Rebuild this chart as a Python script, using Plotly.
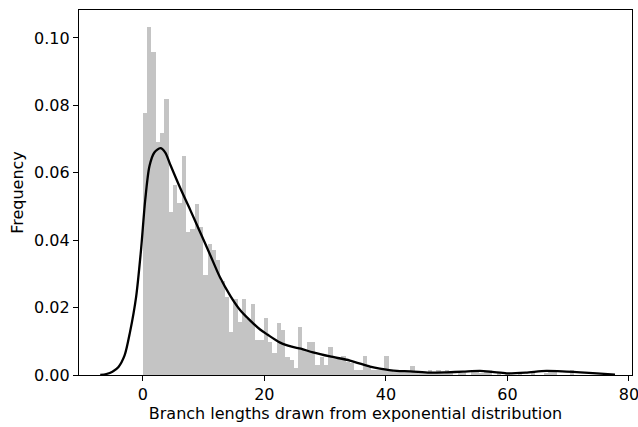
import plotly.graph_objects as go

# Histogram (density) of branch lengths: bins start at 0, fixed width
bin_start = 0.0
bin_width = 0.71
bin_heights = [
    0.0777, 0.1032, 0.0959, 0.0692, 0.0717, 0.0818, 0.0483, 0.0564, 0.0510, 0.0650,
    0.0425, 0.0432, 0.0507, 0.0438, 0.0297, 0.0390, 0.0370, 0.0340, 0.0280, 0.0230,
    0.0128, 0.0225, 0.0158, 0.0225, 0.0165, 0.0210, 0.0104, 0.0104, 0.0169, 0.0099,
    0.0065, 0.0154, 0.0134, 0.0054, 0.0045, 0.0020, 0.0142, 0.0074, 0.0099, 0.0099,
    0.0030, 0.0054, 0.0030, 0.0084, 0.0054, 0.0050, 0.0056, 0.0040, 0.0035, 0.0015,
    0.0015, 0.0056, 0.0025, 0.0015, 0.0015, 0.0015, 0.0056, 0.0015, 0.0010, 0.0015,
    0.0010, 0.0008, 0.0027, 0.0008, 0.0005, 0.0008, 0.0015, 0.0005, 0.0015, 0.0005,
    0.0015, 0.0005, 0.0000, 0.0005, 0.0005, 0.0000, 0.0015, 0.0015, 0.0005, 0.0015,
    0.0015, 0.0000, 0.0005, 0.0000, 0.0005, 0.0000, 0.0000, 0.0005, 0.0000, 0.0000,
    0.0005, 0.0000, 0.0000, 0.0005, 0.0015, 0.0015, 0.0000, 0.0000, 0.0000, 0.0015,
]

# KDE curve
kde_x = [-7.0, -6.0, -5.0, -4.0, -3.0, -2.1, -1.1, -0.3, 0.4, 1.1, 1.9, 2.9, 3.7,
         4.5, 6.1, 7.8, 9.4, 11.0, 12.7, 14.4, 16.0, 17.6, 19.3, 20.5, 22.6, 24.5,
         26.0, 28.0, 30.8, 34.1, 37.4, 39.0, 41.8, 44.0, 47.2, 50.0, 52.7, 55.5,
         57.5, 59.9, 63.0, 66.4, 69.7, 72.0, 74.7, 77.7]
kde_y = [0.0, 0.0003, 0.0010, 0.0024, 0.0058, 0.0128, 0.0232, 0.0370, 0.0520, 0.0620,
         0.0660, 0.0673, 0.0660, 0.0625, 0.0557, 0.0490, 0.0425, 0.0360, 0.0290,
         0.0235, 0.0193, 0.0163, 0.0135, 0.0120, 0.0096, 0.0084, 0.0078, 0.0067,
         0.0055, 0.0043, 0.0025, 0.0019, 0.0012, 0.0011, 0.0007, 0.0008, 0.0010,
         0.0012, 0.0009, 0.0005, 0.0007, 0.0012, 0.0010, 0.0008, 0.0005, 0.0001]

x_ticks = [0, 20, 40, 60, 80]
y_ticks = [0.00, 0.02, 0.04, 0.06, 0.08, 0.10]
x_title = "Branch lengths drawn from exponential distribution"
y_title = "Frequency"

bin_centers = [bin_start + (i + 0.5) * bin_width for i in range(len(bin_heights))]

fig = go.Figure()
fig.add_trace(go.Bar(
    x=bin_centers, y=bin_heights, width=bin_width,
    marker=dict(color="#c4c4c4", line=dict(width=0)),
    showlegend=False, hoverinfo="x+y",
))
fig.add_trace(go.Scatter(
    x=kde_x, y=kde_y, mode="lines",
    line=dict(color="black", width=2.3, shape="spline", smoothing=0.8),
    showlegend=False,
))

font = dict(family="DejaVu Sans", size=16, color="black")
fig.update_layout(
    width=638, height=427,
    margin=dict(l=79, r=6, t=10, b=52, autoexpand=False),
    paper_bgcolor="white", plot_bgcolor="white",
    bargap=0, font=font,
    xaxis=dict(
        range=[-10.5, 80.5], tickvals=x_ticks, ticktext=[str(v) for v in x_ticks],
        ticks="outside", ticklen=5, tickwidth=1.2, tickcolor="black",
        showline=True, linecolor="black", linewidth=1.2, mirror=True,
        showgrid=False, zeroline=False, automargin=False,
        ticklabeloverflow="allow",
        title=dict(text=x_title, font=font, standoff=4),
        tickfont=font,
    ),
    yaxis=dict(
        range=[0, 0.1083], tickvals=y_ticks, ticktext=[f"{v:.2f}" for v in y_ticks],
        ticks="outside", ticklen=5, tickwidth=1.2, tickcolor="black",
        showline=True, linecolor="black", linewidth=1.2, mirror=True,
        showgrid=False, zeroline=False, automargin=False,
        title=dict(text=y_title, font=font, standoff=6),
        tickfont=font,
    ),
)

fig.write_html(
    "out.html",
    config={"displayModeBar": False},
    post_script="document.body.style.margin='0';document.body.style.overflow='hidden';",
)
